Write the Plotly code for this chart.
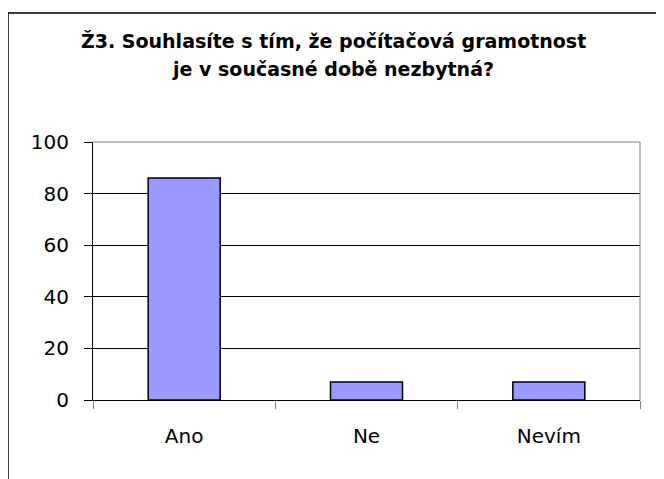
import plotly.graph_objects as go

categories = ["Ano", "Ne", "Nevím"]
values = [86, 7, 7]
y_ticks = [0, 20, 40, 60, 80, 100]
title_lines = ["Ž3. Souhlasíte s tím, že počítačová gramotnost", "je v současné době nezbytná?"]

# page body has an 8px default margin; compensate so window coords match
OFF = 8
WIN_W, WIN_H = 664, 479
W, H = WIN_W - OFF, WIN_H - OFF
L, R, T, B = 93, 640, 142, 400  # plot area in window pixels
pw, ph = R - L, B - T

def px(x):
    return (x - L) / pw

def py(y):
    return (B - y) / ph

fig = go.Figure(go.Bar(
    x=categories, y=values,
    marker=dict(color="#9999FF", line=dict(color="#000000", width=1.5)),
    width=0.395,
))

font = "DejaVu Sans, Arial, sans-serif"

fig.update_layout(
    width=W, height=H,
    margin=dict(l=L - OFF, r=W - (R - OFF), t=T - OFF, b=H - (B - OFF)),
    paper_bgcolor="white", plot_bgcolor="white",
    showlegend=False,
    font=dict(family=font, size=20, color="#000000"),
    xaxis=dict(
        showline=True, linecolor="#000000", linewidth=1,
        ticks="outside", ticklen=8, tickcolor="#808080", tickson="boundaries",
        ticklabelstandoff=18,
        tickfont=dict(size=20),
        showgrid=False, fixedrange=True,
    ),
    yaxis=dict(
        range=[0, 100], tickvals=y_ticks,
        showline=True, linecolor="#000000", linewidth=1,
        ticks="outside", ticklen=8, tickcolor="#000000",
        ticklabelstandoff=11,
        showgrid=True, gridcolor="#000000", gridwidth=1,
        zeroline=False, tickfont=dict(size=20), fixedrange=True,
    ),
    shapes=[
        dict(type="rect", xref="paper", yref="paper",
             x0=px(8), x1=px(658), y0=py(490), y1=py(13),
             line=dict(color="#000000", width=1.5), layer="below"),
        dict(type="line", xref="paper", yref="paper",
             x0=0, x1=1, y0=1, y1=1, line=dict(color="#808080", width=1)),
        dict(type="line", xref="paper", yref="paper",
             x0=1, x1=1, y0=0, y1=1, line=dict(color="#808080", width=1)),
    ],
    annotations=[
        dict(text="<b>" + title_lines[0] + "</b>", xref="paper", yref="paper",
             x=px(333), y=py(41), showarrow=False, xanchor="center", yanchor="middle",
             font=dict(family=font, size=19, color="#000000")),
        dict(text="<b>" + title_lines[1] + "</b>", xref="paper", yref="paper",
             x=px(333), y=py(69), showarrow=False, xanchor="center", yanchor="middle",
             font=dict(family=font, size=19, color="#000000")),
    ],
)

fig.write_html("out.html")
